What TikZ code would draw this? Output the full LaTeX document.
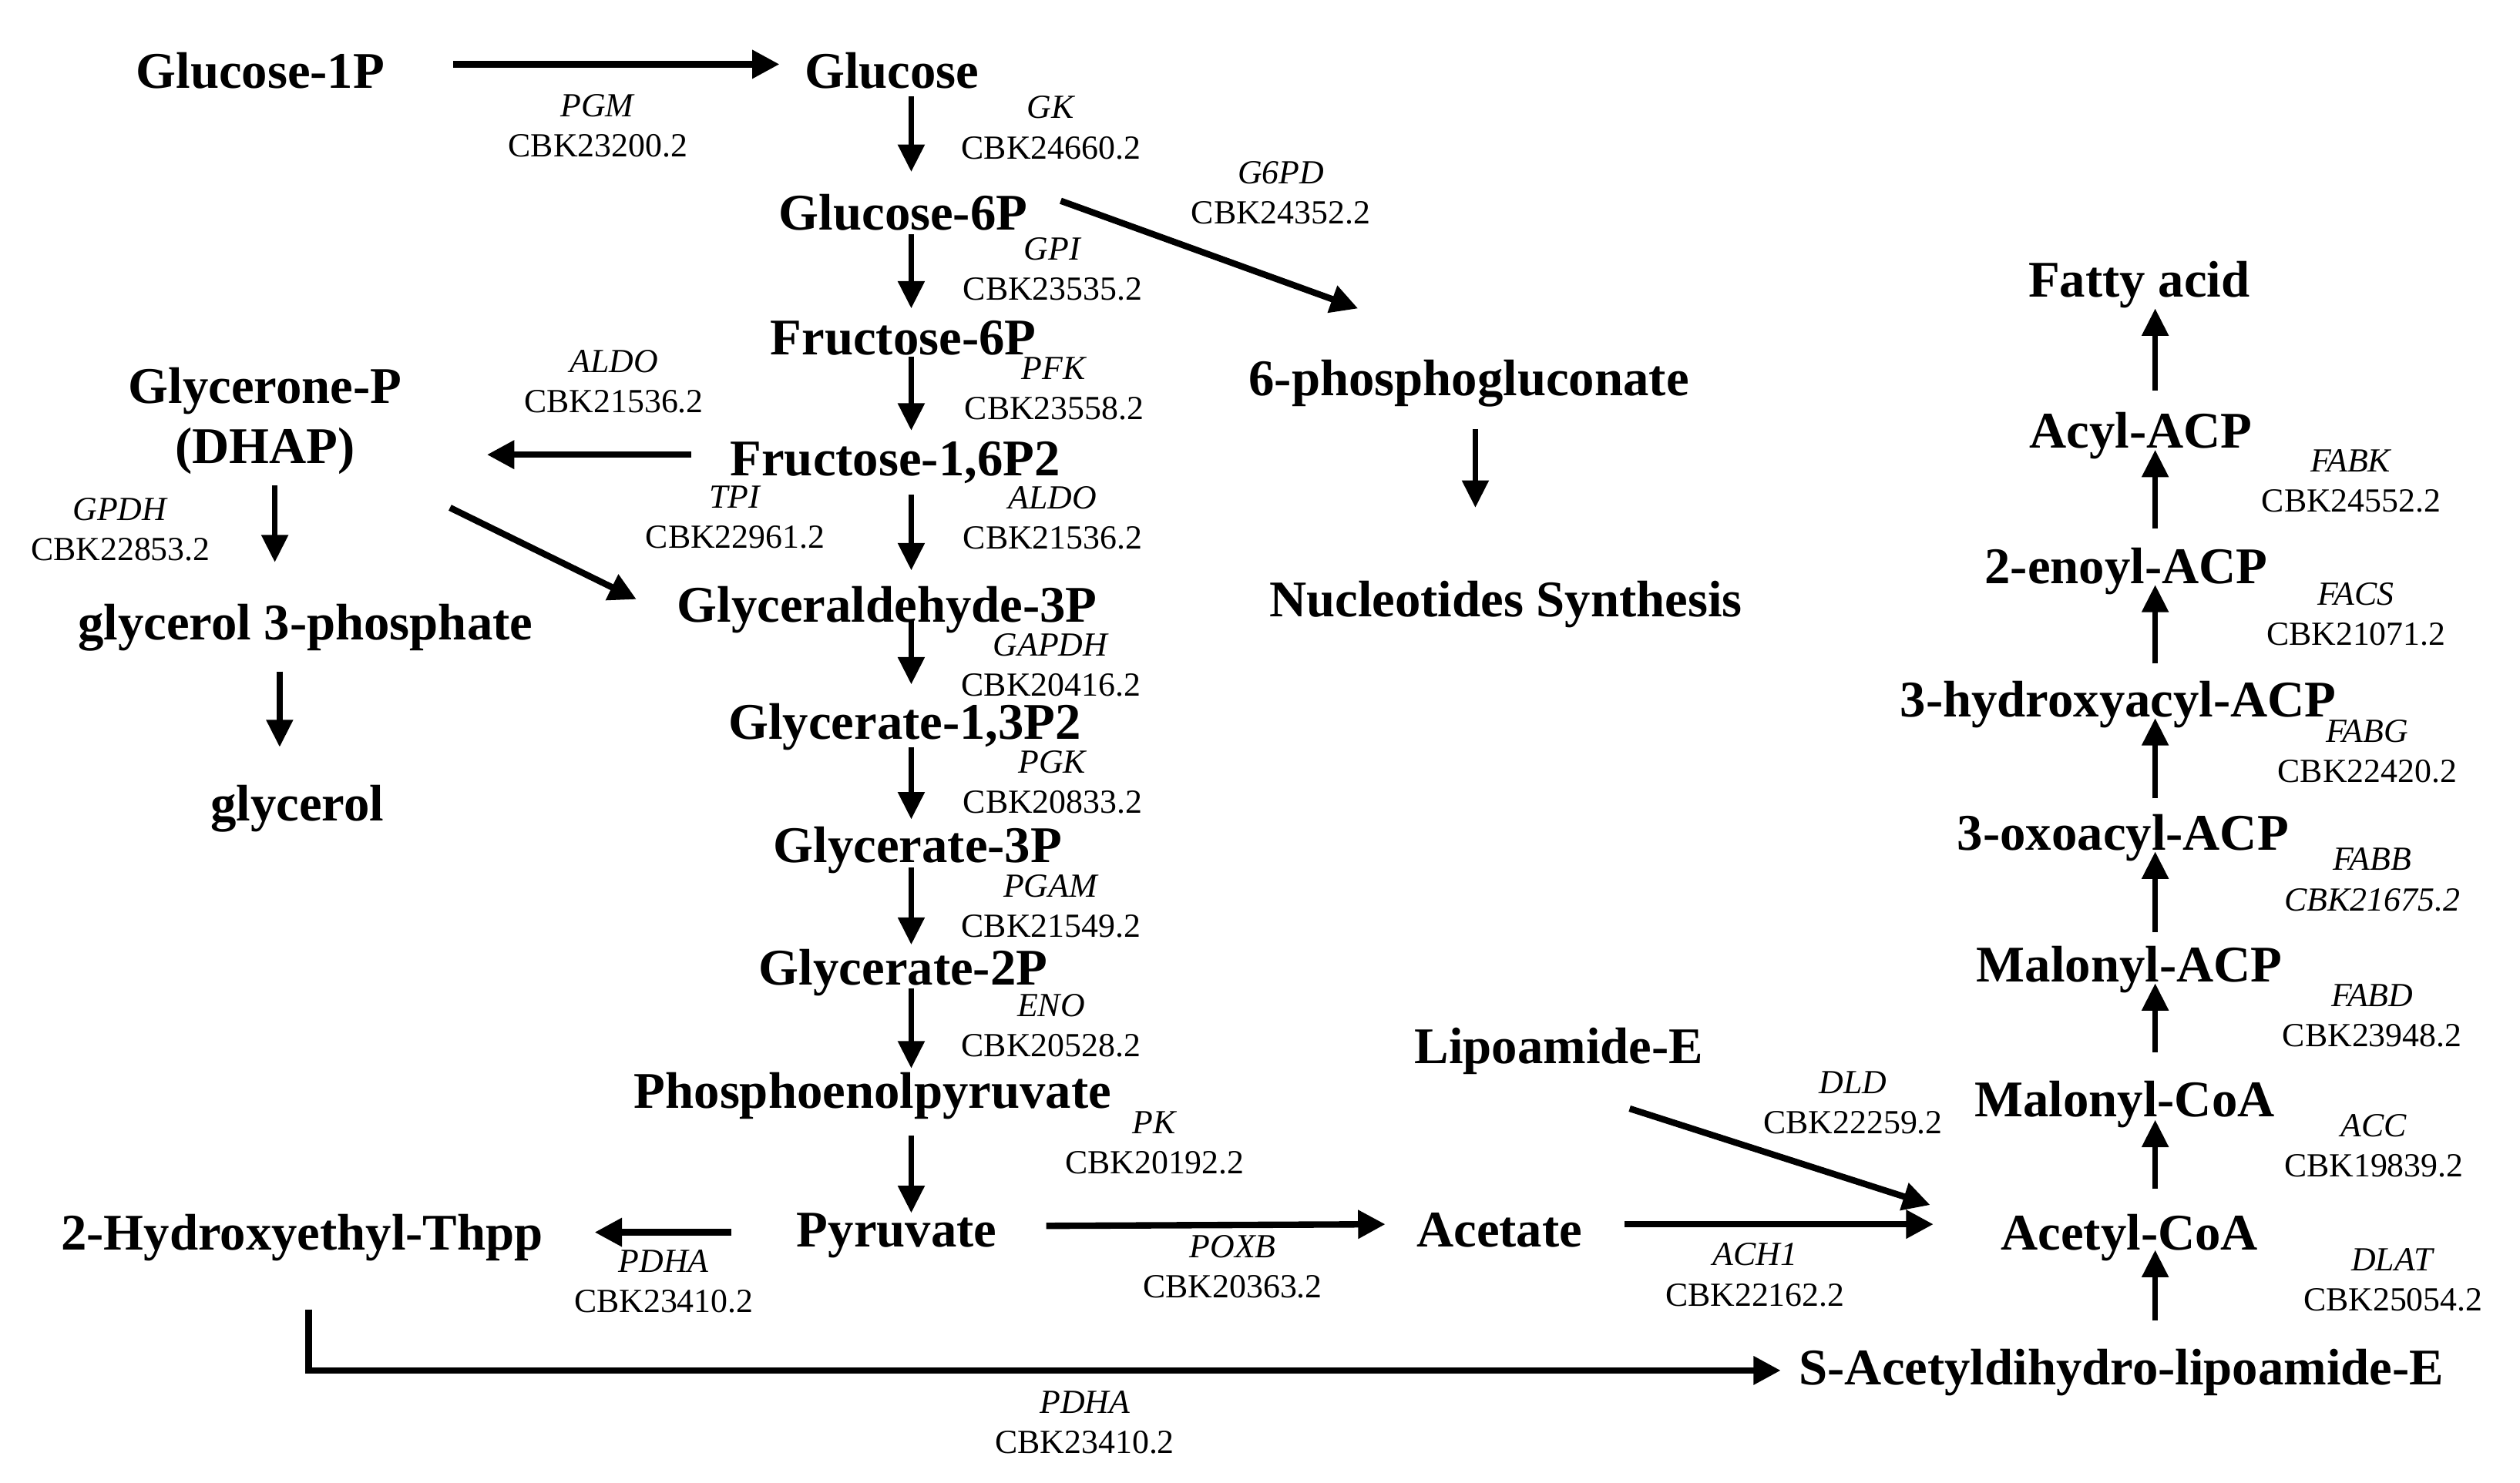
\documentclass[tikz,border=0pt]{standalone}
\usepackage{fontspec}
\setmainfont{Liberation Serif}
\usetikzlibrary{arrows.meta}
\begin{document}
\begin{tikzpicture}[x=1pt,y=-1pt,
  met/.style={font=\bfseries\fontsize{32}{36}\selectfont, inner sep=0pt, text height=24pt, text depth=4pt},
  metml/.style={font=\bfseries\fontsize{32}{37}\selectfont, inner sep=0pt, align=center},
  enz/.style={font=\fontsize{21}{25}\selectfont, align=center, inner sep=0pt},
  arr/.style={line width=4pt, -{Triangle[length=17pt,width=17pt]}},
  arrthin/.style={line width=3.5pt, -{Triangle[length=17pt,width=16pt]}}
]
\useasboundingbox (0,0) rectangle (1568,923);

% metabolites
\node[met] (glc1p) at (162,45) {Glucose-1P};
\node[met] (glc) at (555,45) {Glucose};
\node[met] (g6p) at (562,133) {Glucose-6P};
\node[met] (f6p) at (562,211) {Fructose-6P};
\node[met] (f16) at (557,286) {Fructose-1,6P2};
\node[met] (ga3p) at (552,377) {Glyceraldehyde-3P};
\node[met] (g13) at (563,450) {Glycerate-1,3P2};
\node[met] (g3p) at (571,527) {Glycerate-3P};
\node[met] (g2p) at (562,603) {Glycerate-2P};
\node[met] (pep) at (543,680) {Phosphoenolpyruvate};
\node[met] (pyr) at (558,766) {Pyruvate};
\node[met] (het) at (188,768) {2-Hydroxyethyl-Thpp};
\node[met] (acet) at (933,766) {Acetate};
\node[met] (lip) at (970,652) {Lipoamide-E};
\node[met] (acoa) at (1325,768) {Acetyl-CoA};
\node[met] (sacet) at (1320,852) {S-Acetyldihydro-lipoamide-E};
\node[met] (mcoa) at (1322,685) {Malonyl-CoA};
\node[met] (macp) at (1325,601) {Malonyl-ACP};
\node[met] (oxo) at (1321,519) {3-oxoacyl-ACP};
\node[met] (hyd) at (1318,436) {3-hydroxyacyl-ACP};
\node[met] (enoyl) at (1323,353) {2-enoyl-ACP};
\node[met] (acyl) at (1332,269) {Acyl-ACP};
\node[met] (fatty) at (1331,175) {Fatty acid};
\node[met] (pg6) at (914,236) {6-phosphogluconate};
\node[met] (nuc) at (937,374) {Nucleotides Synthesis};
\node[metml] (dhap) at (165,262) {Glycerone-P\\(DHAP)};
\node[met] (g3ph) at (190,388) {glycerol 3-phosphate};
\node[met] (glyc) at (185,501) {glycerol};

% enzymes
\node[enz] (e1) at (372,78.5) {\textit{PGM}\\CBK23200.2};
\node[enz] (e2) at (654,79.5) {\textit{GK}\\CBK24660.2};
\node[enz] (e3) at (797,120) {\textit{G6PD}\\CBK24352.2};
\node[enz] (e4) at (655,167.5) {\textit{GPI}\\CBK23535.2};
\node[enz] (e5) at (656,242) {\textit{PFK}\\CBK23558.2};
\node[enz] (e6) at (382,237.5) {\textit{ALDO}\\CBK21536.2};
\node[enz] (e7) at (457.5,322) {\textit{TPI}\\CBK22961.2};
\node[enz] (e8) at (655,322.5) {\textit{ALDO}\\CBK21536.2};
\node[enz] (e9) at (75,329.5) {\textit{GPDH}\\CBK22853.2};
\node[enz] (e10) at (654,414) {\textit{GAPDH}\\CBK20416.2};
\node[enz] (e11) at (655,487) {\textit{PGK}\\CBK20833.2};
\node[enz] (e12) at (654,564) {\textit{PGAM}\\CBK21549.2};
\node[enz] (e13) at (654,638.5) {\textit{ENO}\\CBK20528.2};
\node[enz] (e14) at (718.5,711.5) {\textit{PK}\\CBK20192.2};
\node[enz] (e15) at (413,797.5) {\textit{PDHA}\\CBK23410.2};
\node[enz] (e16) at (767,788.5) {\textit{POXB}\\CBK20363.2};
\node[enz] (e17) at (675,885.5) {\textit{PDHA}\\CBK23410.2};
\node[enz] (e18) at (1153,686.5) {\textit{DLD}\\CBK22259.2};
\node[enz] (e19) at (1092,793.5) {\textit{ACH1}\\CBK22162.2};
\node[enz] (e20) at (1463,299.5) {\textit{FABK}\\CBK24552.2};
\node[enz] (e21) at (1466,382.5) {\textit{FACS}\\CBK21071.2};
\node[enz] (e22) at (1473,467.5) {\textit{FABG}\\CBK22420.2};
\node[enz] (e23) at (1476,547.5) {\textit{FABB}\\\textit{CBK21675.2}};
\node[enz] (e24) at (1476,632) {\textit{FABD}\\CBK23948.2};
\node[enz] (e25) at (1477,713) {\textit{ACC}\\CBK19839.2};
\node[enz] (e26) at (1489,796.5) {\textit{DLAT}\\CBK25054.2};

% glycolysis column
\draw[arrthin] ([xshift=12pt,yshift=-15pt]glc.center) -- ([xshift=5pt,yshift=26pt]g6p.center);
\draw[arrthin] ([xshift=5pt,yshift=-13pt]g6p.center) -- ([xshift=5pt,yshift=19pt]f6p.center);
\draw[arrthin] ([xshift=5pt,yshift=-11pt]f6p.center) -- ([xshift=10pt,yshift=18pt]f16.center);
\draw[arrthin] ([xshift=10pt,yshift=-22pt]f16.center) -- ([xshift=15pt,yshift=22pt]ga3p.center);
\draw[arrthin] ([xshift=15pt,yshift=-9pt]ga3p.center) -- ([xshift=4pt,yshift=24pt]g13.center);
\draw[arrthin] ([xshift=4pt,yshift=-15pt]g13.center) -- ([xshift=-4pt,yshift=17pt]g3p.center);
\draw[arrthin] ([xshift=-4pt,yshift=-13pt]g3p.center) -- ([xshift=5pt,yshift=15pt]g2p.center);
\draw[arrthin] ([xshift=5pt,yshift=-12pt]g2p.center) -- ([xshift=24pt,yshift=15pt]pep.center);
\draw[arrthin] ([xshift=24pt,yshift=-27pt]pep.center) -- ([xshift=9pt,yshift=11pt]pyr.center);

% fatty acid column
\draw[arrthin] ([xshift=21pt,yshift=30pt]sacet.center) -- ([xshift=16pt,yshift=-10pt]acoa.center);
\draw[arrthin] ([xshift=16pt,yshift=28pt]acoa.center) -- ([xshift=19pt,yshift=-12pt]mcoa.center);
\draw[arrthin] ([xshift=19pt,yshift=30pt]mcoa.center) -- ([xshift=16pt,yshift=-11pt]macp.center);
\draw[arrthin] ([xshift=16pt,yshift=21pt]macp.center) -- ([xshift=20pt,yshift=-11pt]oxo.center);
\draw[arrthin] ([xshift=20pt,yshift=22pt]oxo.center) -- ([xshift=23pt,yshift=-11pt]hyd.center);
\draw[arrthin] ([xshift=23pt,yshift=23pt]hyd.center) -- ([xshift=18pt,yshift=-11pt]enoyl.center);
\draw[arrthin] ([xshift=18pt,yshift=24pt]enoyl.center) -- ([xshift=9pt,yshift=-11pt]acyl.center);
\draw[arrthin] ([xshift=9pt,yshift=26pt]acyl.center) -- ([xshift=10pt,yshift=-17pt]fatty.center);

% other connectors
\draw[arr] ([xshift=120pt,yshift=5pt]glc1p.center) -- ([xshift=-70pt,yshift=5pt]glc.center);
\draw[arr] ([xshift=98pt,yshift=8pt]g6p.center) -- ([xshift=-69pt,yshift=44pt]pg6.center);
\draw[arrthin] ([xshift=4pt,yshift=-31pt]pg6.center) -- ([xshift=-19pt,yshift=58pt]nuc.center);
\draw[arr] ([xshift=-127pt,yshift=3pt]f16.center) -- ([xshift=138pt,yshift=-21pt]dhap.center);
\draw[arrthin] ([xshift=6pt,yshift=-40pt]dhap.center) -- ([xshift=-19pt,yshift=38pt]g3ph.center);
\draw[arr] ([xshift=115pt,yshift=-54pt]dhap.center) -- ([xshift=-156pt,yshift=4pt]ga3p.center);
\draw[arrthin] ([xshift=-16pt,yshift=-30pt]g3ph.center) -- ([xshift=-11pt,yshift=36pt]glyc.center);
\draw[arr] ([xshift=-103pt,yshift=-1pt]pyr.center) -- ([xshift=182pt,yshift=1pt]het.center);
\draw[arr] ([xshift=93pt,yshift=3pt]pyr.center) -- ([xshift=-71pt,yshift=4pt]acet.center);
\draw[arr] ([xshift=78pt,yshift=4pt]acet.center) -- ([xshift=-122pt,yshift=6pt]acoa.center);
\draw[arr] ([xshift=44pt,yshift=-38pt]lip.center) -- ([xshift=-124pt,yshift=18pt]acoa.center);
\draw[arr] ([xshift=4pt,yshift=-47pt]het.center) |- ([xshift=-212pt,yshift=-1pt]sacet.center);
\end{tikzpicture}
\end{document}
